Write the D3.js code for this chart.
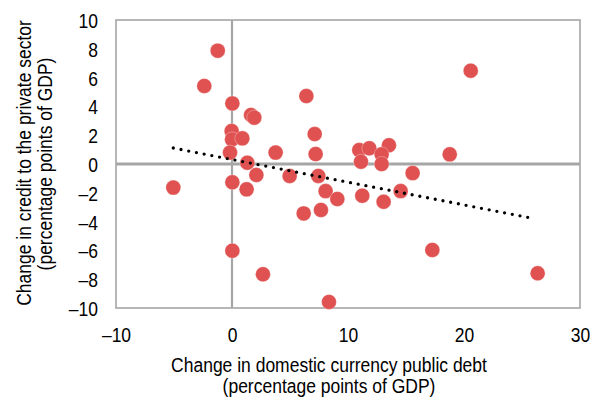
<!DOCTYPE html>
<html>
<head>
<meta charset="utf-8">
<script src="https://cdn.jsdelivr.net/npm/d3@7"></script>
<style>
  html, body { margin: 0; padding: 0; background: #fff; }
  svg { display: block; }
  text { font-family: "Liberation Sans Narrow", "Arial Narrow", "Liberation Sans", Arial, sans-serif; fill: #000; }
</style>
</head>
<body>
<svg id="chart" width="590" height="397"></svg>
<script>
// ---- data ----
const xValues = [-1.23, -2.39, 0.03, 1.64, 1.92, 6.41, 7.13, -0.03, 0.0, 0.89,
                 -0.17, 3.76, 7.21, 1.32, 2.10, 4.97, 7.44, 0.03, 1.26, -5.06,
                 8.07, 9.08, 6.18, 7.67, 0.03, 2.67, 8.36, 20.58, 10.97, 11.84,
                 11.12, 13.53, 12.9, 12.9, 18.77, 15.57, 14.54, 11.23, 13.07, 17.27,
                 26.35];
const yValues = [7.87, 5.42, 4.21, 3.40, 3.22, 4.72, 2.08, 2.29, 1.71, 1.78,
                 0.79, 0.79, 0.69, 0.09, -0.76, -0.83, -0.83, -1.27, -1.76, -1.64,
                 -1.88, -2.43, -3.43, -3.19, -6.02, -7.66, -9.58, 6.48, 0.97, 1.09,
                 0.16, 1.30, 0.67, 0.0, 0.67, -0.63, -1.88, -2.20, -2.62, -5.97,
                 -7.59];
const trendX = [-5.06, 26.1];
const trendY = [1.11, -3.80];
const xTicks = [-10, 0, 10, 20, 30];
const yTicks = [10, 8, 6, 4, 2, 0, -2, -4, -6, -8, -10];
const xTitle = ["Change in domestic currency public debt", "(percentage points of GDP)"];
const yTitle = ["Change in credit to the private sector", "(percentage points of GDP)"];

// ---- layout ----
const svg = d3.select("#chart");
const plot = { left: 116, right: 580, top: 20, bottom: 308 };
const x = d3.scaleLinear().domain([-10, 30]).range([plot.left, plot.right]);
const y = d3.scaleLinear().domain([-10, 10]).range([plot.bottom, plot.top]);
const fontSize = 21;
const fmt = v => (v < 0 ? "\u2013" + Math.abs(v) : String(v));

// detect narrow font availability
const probe = svg.append("text").attr("font-size", fontSize).text(xTitle[0]);
const probeW = probe.node().getComputedTextLength();
probe.remove();
const sx = probeW > 340 ? 316 / probeW : 1;

function label(px, py, str, anchor, rotate) {
  const g = svg.append("g")
    .attr("transform", `translate(${px},${py})` + (rotate ? " rotate(-90)" : "") + ` scale(${sx},1)`);
  g.append("text").attr("font-size", fontSize).attr("text-anchor", anchor).text(str);
  return g;
}

// frame
svg.append("rect")
  .attr("x", plot.left).attr("y", plot.top)
  .attr("width", plot.right - plot.left).attr("height", plot.bottom - plot.top)
  .attr("fill", "none").attr("stroke", "#b0b0b0").attr("stroke-width", 1.8);

// zero lines
svg.append("line")
  .attr("x1", x(0)).attr("x2", x(0)).attr("y1", plot.top).attr("y2", plot.bottom)
  .attr("stroke", "#a6a6a6").attr("stroke-width", 2.2);
svg.append("line")
  .attr("x1", plot.left).attr("x2", plot.right).attr("y1", y(0)).attr("y2", y(0))
  .attr("stroke", "#a6a6a6").attr("stroke-width", 2.8);

// axes (via d3 axis generators, tick marks hidden)
const xAxis = d3.axisBottom(x).tickValues(xTicks).tickSize(0).tickPadding(0).tickFormat(fmt);
const yAxis = d3.axisLeft(y).tickValues(yTicks).tickSize(0).tickPadding(0).tickFormat(fmt);
const gx = svg.append("g").attr("transform", `translate(0,${plot.bottom})`).call(xAxis);
const gy = svg.append("g").attr("transform", `translate(${plot.left},0)`).call(yAxis);
[gx, gy].forEach(g => {
  g.select(".domain").remove();
  g.selectAll("text").attr("font-size", fontSize).attr("font-family", null).attr("fill", "#000");
});
gx.selectAll(".tick text").attr("y", 0).attr("dy", 34)
  .attr("transform", function () { return sx !== 1 ? `scale(${sx},1)` : null; });
gy.selectAll(".tick text").attr("x", -18).attr("dy", "0.36em")
  .attr("transform", function () { return sx !== 1 ? `translate(-18,0) scale(${sx},1) translate(18,0)` : null; });

// points
svg.append("g").selectAll("circle")
  .data(xValues.map((v, i) => [v, yValues[i]]))
  .join("circle")
  .attr("cx", d => x(d[0])).attr("cy", d => y(d[1]))
  .attr("r", 7.5)
  .attr("fill", "#e05252")
  .attr("stroke", "#ffffff").attr("stroke-opacity", 0.5).attr("stroke-width", 0.6);

// trend line (dotted)
const line = d3.line().x(d => x(d[0])).y(d => y(d[1]));
svg.append("path")
  .datum(trendX.map((v, i) => [v, trendY[i]]))
  .attr("d", line)
  .attr("fill", "none").attr("stroke", "#000")
  .attr("stroke-width", 3.3).attr("stroke-linecap", "round")
  .attr("stroke-dasharray", "0 7.85");

// titles
label(329, 372, xTitle[0], "middle", false);
label(329, 393, xTitle[1], "middle", false);
label(31, 163, yTitle[0], "middle", true);
label(52, 164, yTitle[1], "middle", true);
</script>
</body>
</html>
